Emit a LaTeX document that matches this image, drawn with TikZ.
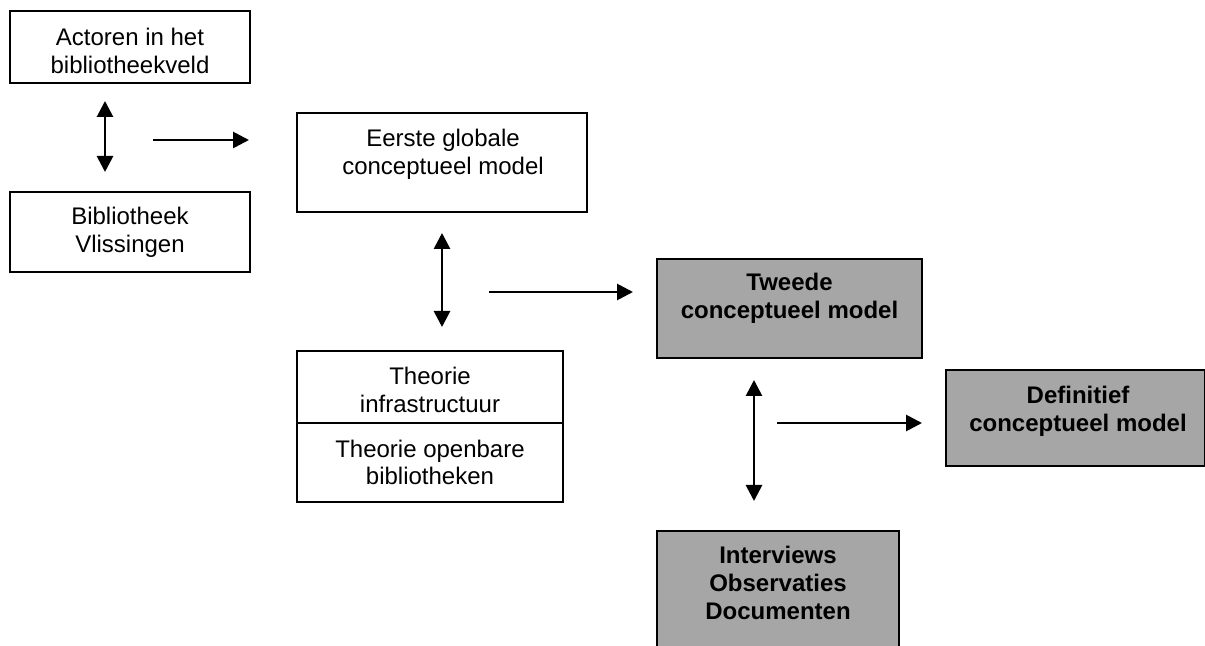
\documentclass[tikz,border=0pt]{standalone}
\usepackage{fontspec}
\setmainfont{Liberation Sans}
\usetikzlibrary{arrows.meta}
\definecolor{boxgray}{HTML}{A6A6A6}
\begin{document}
\begin{tikzpicture}[x=0.5pt,y=-0.5pt,
  whitebox/.style={draw=black, line width=0.8pt, fill=white, rectangle, inner sep=0pt},
  graybox/.style={draw=black, line width=1pt, fill=boxgray, rectangle, inner sep=0pt},
  lbl/.style={align=center, inner sep=0pt, font=\fontsize{12pt}{13.8pt}\selectfont},
  blbl/.style={lbl, font=\fontsize{12pt}{13.8pt}\selectfont\bfseries},
  tip/.style={Triangle[length=8pt,width=8pt]},
  flow/.style={line width=1.4pt, -{Triangle[length=8pt,width=8pt]}},
  twoway/.style={line width=1.4pt, {Triangle[length=8pt,width=8pt]}-{Triangle[length=8pt,width=8pt]}}]

  \useasboundingbox (0,0) rectangle (1205,646);
  \fill[white] (0,0) rectangle (1205,646);

  % left column
  \node[whitebox, minimum width=120pt, minimum height=36pt] (actoren) at (130,47) {};
  \node[lbl] (actorenT) at (130,51) {Actoren in het\\bibliotheekveld};
  \node[whitebox, minimum width=120pt, minimum height=40pt] (biblio) at (130,232) {};
  \node[lbl] (biblioT) at (130,232.5) {Bibliotheek\\Vlissingen};

  % first model and theory
  \node[whitebox, minimum width=145pt, minimum height=49.5pt] (eerste) at (442,162.5) {};
  \node[lbl] (eersteT) at (443,154) {Eerste globale\\conceptueel model};
  \node[whitebox, minimum width=133pt, minimum height=36pt] (infra) at (430,387) {};
  \node[lbl] (infraT) at (430,390) {Theorie\\infrastructuur};
  \node[whitebox, minimum width=133pt, minimum height=39.5pt] (openb) at (430,462.5) {};
  \node[lbl] (openbT) at (430,462.5) {Theorie openbare\\bibliotheken};

  % second model, final model and sources
  \node[graybox, minimum width=132.5pt, minimum height=49.5pt] (tweede) at (789.5,308.5) {};
  \node[blbl] (tweedeT) at (789.5,298.5) {Tweede\\conceptueel model};
  \node[graybox, minimum width=129.25pt, minimum height=48pt] (definitief) at (1075.25,418) {};
  \node[blbl] (definitiefT) at (1078,411) {Definitief\\conceptueel model};
  \node[graybox, minimum width=121pt, minimum height=64.5pt] (bronnen) at (778,595.5) {};
  \node[blbl] (bronnenT) at (778,583) {Interviews\\Observaties\\Documenten};

  % arrow end points
  \coordinate (a1s) at (105,101); \coordinate (a1e) at (105,172);
  \coordinate (a2s) at (153,140); \coordinate (a2e) at (249,140);
  \coordinate (a3s) at (442,233); \coordinate (a3e) at (442,327);
  \coordinate (a4s) at (489,292); \coordinate (a4e) at (633,292);
  \coordinate (a5s) at (754,380); \coordinate (a5e) at (754,501);
  \coordinate (a6s) at (777,423); \coordinate (a6e) at (922,423);

  \draw[twoway] (a1s) -- (a1e);
  \draw[flow] (a2s) -- (a2e);
  \draw[twoway] (a3s) -- (a3e);
  \draw[flow] (a4s) -- (a4e);
  \draw[twoway] (a5s) -- (a5e);
  \draw[flow] (a6s) -- (a6e);
\end{tikzpicture}
\end{document}
